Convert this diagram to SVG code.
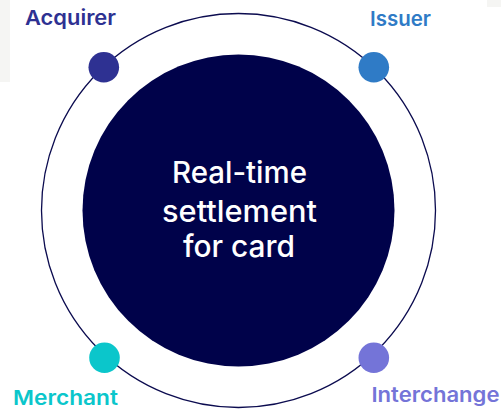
<svg xmlns="http://www.w3.org/2000/svg" width="501" height="409" viewBox="0 0 501 409">
<style>
.lbl{font-family:Inter,"Noto Sans",sans-serif;font-weight:600;font-size:20.5px}
.ctr{font-family:Inter,"Noto Sans",sans-serif;font-weight:500;font-size:30px;fill:#ffffff}
</style>
<rect width="501" height="409" fill="#ffffff"/>
<rect x="0" y="0" width="10" height="82" fill="#f5f5f3"/>
<rect x="487" y="0" width="14" height="7" fill="#f5f5f3"/>
<g id="connectors">
<circle cx="238.5" cy="210.5" r="197" fill="none" stroke="#0b0b4f" stroke-width="1.3"/>
</g>
<g id="center">
<circle cx="238.5" cy="210.5" r="156" fill="#00024a"/>
<text class="ctr" x="172" y="183" textLength="135" lengthAdjust="spacingAndGlyphs">Real-time</text>
<text class="ctr" x="162" y="221.5" textLength="155" lengthAdjust="spacingAndGlyphs">settlement</text>
<text class="ctr" x="183" y="257" textLength="112" lengthAdjust="spacingAndGlyphs">for card</text>
</g>
<g id="acquirer">
<circle cx="103.8" cy="67.3" r="15.3" fill="#2e3192"/>
<text class="lbl" x="25" y="25" fill="#2e3192" textLength="91" lengthAdjust="spacingAndGlyphs">Acquirer</text>
</g>
<g id="issuer">
<circle cx="373.8" cy="67.3" r="15.3" fill="#2f7bc6"/>
<text class="lbl" x="370" y="26" fill="#2f7bc6" textLength="61" lengthAdjust="spacingAndGlyphs">Issuer</text>
</g>
<g id="merchant">
<circle cx="104.5" cy="357.8" r="15.3" fill="#0bc6cb"/>
<text class="lbl" x="13" y="405" fill="#0bc6cb" textLength="105" lengthAdjust="spacingAndGlyphs">Merchant</text>
</g>
<g id="interchange">
<circle cx="373.8" cy="357.8" r="15.3" fill="#7474d8"/>
<text class="lbl" x="371.5" y="402" fill="#7474d8" textLength="128" lengthAdjust="spacingAndGlyphs">Interchange</text>
</g>
</svg>
